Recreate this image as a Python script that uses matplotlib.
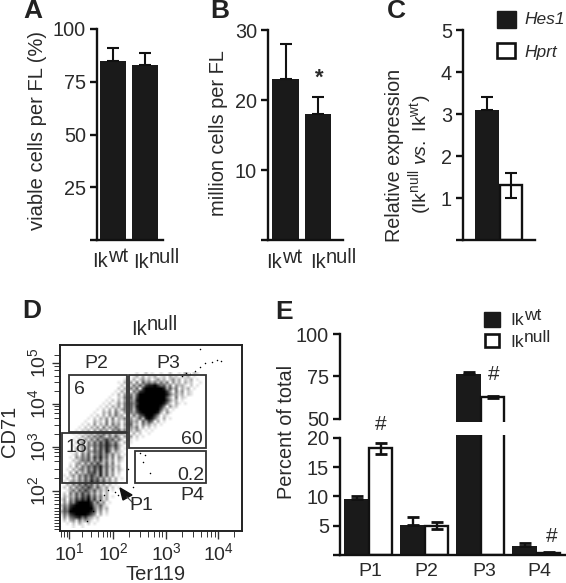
#!/usr/bin/env python3
# -*- coding: utf-8 -*-
import numpy as np
import matplotlib
matplotlib.use('Agg')
import matplotlib.pyplot as plt
from matplotlib.patches import Rectangle, Polygon

plt.rcParams['font.family'] = ['Liberation Sans', 'DejaVu Sans']
plt.rcParams['mathtext.fontset'] = 'custom'
plt.rcParams['mathtext.rm'] = 'Liberation Sans'
plt.rcParams['mathtext.it'] = 'Liberation Sans:italic'

W, H = 566, 583
DARK = '#1a1a1a'
TXT = '#2a2a2a'

# panel A
viable_vals = [85, 83]
viable_err = [6, 5.5]
viable_ticks = [0, 25, 50, 75, 100]
viable_ticklabels = ['', '25', '50', '75', '100']

# panel B
million_vals = [23, 18]
million_err = [5, 2.5]
million_ticks = [0, 10, 20, 30]
million_ticklabels = ['', '10', '20', '30']

# panel C
expr_genes = ['Hes1', 'Hprt']
expr_vals = [3.1, 1.3]
expr_err_low = [0, 0.3]
expr_err_high = [0.3, 0.3]
expr_ticks = [0, 1, 2, 3, 4, 5]
expr_ticklabels = ['', '1', '2', '3', '4', '5']

# panel E
pop_names = ['P1', 'P2', 'P3', 'P4']
pct_wt = [9.5, 5.2, 76.5, 1.5]
pct_wt_err = [0.6, 1.3, 1.0, 0.5]
pct_null = [18.2, 5.0, 63.0, 0.4]
pct_null_err = [1.0, 0.6, 0.7, 0.1]

# panel D, cytometer channels (log-like display)
ter119_ticks = [9, 53, 106, 158]
cd71_ticks = [40, 84, 127, 168]
decade_labels_x = [r'$\mathregular{10^{1}}$', r'$\mathregular{10^{2}}$', r'$\mathregular{10^{3}}$', r'$\mathregular{10^{4}}$']
decade_labels_y = [r'$\mathregular{10^{2}}$', r'$\mathregular{10^{3}}$', r'$\mathregular{10^{4}}$', r'$\mathregular{10^{5}}$']
ter119_minor = [1, 4, 7, 22, 31, 38, 43, 47, 50, 69, 80, 88, 94, 99, 102, 122, 133, 141, 147, 151, 155, 174]
cd71_minor = [2, 5, 8, 11, 14, 17, 20, 23, 27, 31, 34, 37, 53, 62, 70, 75, 79, 82, 97, 106, 113, 118, 122, 125, 140, 149, 155, 161, 165, 176]

# how dark the dot cloud looks, read by eye, 0 empty to 9 solid
cloud_density = [
    "0000000000 0000000000 0000010020 1001002001 03102100",
    "0000000000 0000000000 0020130302 1301203120 21301000",
    "0000000000 0000000000 0130302413 0241302413 02130100",
    "0000000000 0000000001 0314050635 3525250413 03120010",
    "0000000000 0000000000 2041526378 8975625042 31020100",
    "0000000000 0000000002 0315260799 9999836250 31301000",
    "0000000000 0000000010 3140537899 9999974051 40210000",
    "0000000000 0000000103 0415269999 9999985241 30210000",
    "0000000000 0000001002 1536279999 9999963050 21000000",
    "0000000000 0000010203 0425389999 9999974130 10000000",
    "0000000000 0000102014 1536479999 9999852031 01000000",
    "0000000000 0001020314 0526389999 9998504120 00000000",
    "0000000000 0010203041 3516279999 9996230100 00000000",
    "0000000000 0100314052 0425368999 9983041000 00000000",
    "0000000000 1020304152 3041526799 9740210000 00000000",
    "0000000001 0203140503 2504136289 8520301000 00000000",
    "0000000010 0312050413 0315240637 5030100000 00000000",
    "0000000102 0403150524 0426130524 1201000000 00000000",
    "0000001020 3140514253 0314250302 0100000000 00000000",
    "0000010213 0415240536 2503142010 1000000000 00000000",
    "0000102031 4052635142 4130302001 0000000000 00000000",
    "0000010314 2536415263 0414020100 0000000000 00000000",
    "0000103041 5263574625 2031010000 0000000000 00000000",
    "0000021405 2637485362 0301000000 0000000000 00000000",
    "0000102415 3647586473 1010000000 0000000000 00000000",
    "0000031425 0637485263 0100000000 0000000000 00000000",
    "0001020415 3647385142 1000000000 0000000000 00000000",
    "0000130526 1547362513 0100000000 0000000000 00000000",
    "0001042536 2748361504 2000000000 0000000000 00000000",
    "0000213546 2637251403 1000000000 0000000000 00000000",
    "0001034152 6374261502 0000000000 0000000000 00000000",
    "0002041536 4758362413 0000000000 0000000000 00000000",
    "0010314526 3748261503 1000000000 0000000000 00000000",
    "0003051426 5738261402 0000000000 0000000000 00000000",
    "0102415364 7538261401 0000000000 0000000000 00000000",
    "0020315263 7462514030 1000000000 0000000000 00000000",
    "0103425364 8573624130 0000000000 0000000000 00000000",
    "0031526374 6251403010 0000000000 0000000000 00000000",
    "0204153647 5263140201 0000000000 0000000000 00000000",
    "0013526475 3624130100 0000000000 0000000000 00000000",
    "0205263746 2514030000 0000000000 0000000000 00000000",
    "0314263758 3625130100 0000000000 0000000000 00000000",
    "1405375869 4725130000 0000000000 0000000000 00000000",
    "0416489999 7362401000 0000000000 0000000000 00000000",
    "2537899999 8436210000 0000000000 0000000000 00000000",
    "1648999999 9525130000 0000000000 0000000000 00000000",
    "3659999999 8614020000 0000000000 0000000000 00000000",
    "1537899998 6403010000 0000000000 0000000000 00000000",
    "0415678574 3120000000 0000000000 0000000000 00000000",
    "0203415243 1010000000 0000000000 0000000000 00000000",
    "0010203102 0100000000 0000000000 0000000000 00000000",
    "0000100100 0000000000 0000000000 0000000000 00000000",
]

# single events that stand out of the cloud
dots_x = [140, 145, 152, 157, 161, 140, 135, 130, 126, 122, 80, 85, 90, 83, 55, 58, 73, 40, 48, 33, 27, 44, 68]
dots_y = [164, 168, 169, 171, 170, 182, 160, 157, 158, 155, 78, 76, 58, 69, 39, 36, 44, 31, 41, 20, 10, 36, 62]

# gates in the reference pixel frame (left, top, right, bottom) are drawn on the overlay
gates = [(69, 375, 127, 432), (129, 375, 206, 448), (135, 451, 206, 483), (62, 433, 127, 483)]


def px_axes(left, top, right, bottom):
    return fig.add_axes([left / W, 1 - bottom / H, (right - left) / W, (bottom - top) / H])


def style_axis(ax, yticks, ylabels, size=14.3):
    for s in ('top', 'right'):
        ax.spines[s].set_visible(False)
    for s in ('left', 'bottom'):
        ax.spines[s].set_linewidth(1.7)
        ax.spines[s].set_color('#111111')
    ax.set_yticks(yticks)
    ax.set_yticklabels(ylabels, fontsize=size, color=TXT)
    ax.tick_params(axis='y', length=5, width=1.7, pad=3, color='#111111')
    ax.set_xticks([])
    ax.patch.set_alpha(0)


def ik(x, y, sup, size=14.5, dx=16, up=5):
    ov.text(x, y, 'Ik', fontsize=size, color=TXT, va='baseline', ha='left')
    ov.text(x + dx, y - up, sup, fontsize=size, color=TXT, va='baseline', ha='left')


fig = plt.figure(figsize=(W / 100, H / 100), dpi=100, facecolor='white')

# A
ax_a = px_axes(97, 29, 163, 240)
ax_a.bar([0, 1], viable_vals, width=0.81, color=DARK)
ax_a.errorbar([0, 1], viable_vals, yerr=[[0, 0], viable_err], fmt='none', ecolor='#111111',
              elinewidth=1.5, capsize=4.5, capthick=1.5)
ax_a.set_xlim(-0.5, 1.56)
ax_a.set_ylim(0, 100)
style_axis(ax_a, viable_ticks, viable_ticklabels)

# B
ax_b = px_axes(268, 30, 343, 240)
ax_b.bar([0, 1], million_vals, width=0.81, color=DARK)
ax_b.errorbar([0, 1], million_vals, yerr=[[0, 0], million_err], fmt='none', ecolor='#111111',
              elinewidth=1.5, capsize=4.5, capthick=1.5)
ax_b.set_xlim(-0.54, 1.77)
ax_b.set_ylim(0, 30)
style_axis(ax_b, million_ticks, million_ticklabels)

# C
ax_c = px_axes(463, 30, 535, 240)
ax_c.bar([0], expr_vals[0], width=1, color=DARK)
ax_c.bar([1], expr_vals[1], width=0.95, color='white', edgecolor='#111111', linewidth=1.7)
ax_c.errorbar([0, 1], expr_vals, yerr=[expr_err_low, expr_err_high], fmt='none', ecolor='#111111',
              elinewidth=1.5, capsize=4.5, capthick=1.5)
ax_c.set_xlim(-1.0, 2.0)
ax_c.set_ylim(0, 5)
style_axis(ax_c, expr_ticks, expr_ticklabels)

# D
ax_d = px_axes(60, 345, 242, 531)
density = np.array([[int(c) for c in row.replace(' ', '')] for row in cloud_density], dtype=float)
ax_d.imshow(density, cmap='gray_r', vmin=0, vmax=9, extent=(0, 144, 3, 159), origin='upper',
            interpolation='bilinear', aspect='auto')
ax_d.scatter(dots_x, dots_y, s=1.2, color='black', linewidths=0)
ax_d.set_xlim(0, 182)
ax_d.set_ylim(0, 186)
for s in ax_d.spines.values():
    s.set_linewidth(1.4)
    s.set_color('#222222')
ax_d.set_xticks(ter119_ticks)
ax_d.set_xticklabels(decade_labels_x, fontsize=14, color=TXT)
ax_d.set_xticks(ter119_minor, minor=True)
ax_d.set_yticks(cd71_ticks)
ax_d.set_yticklabels(decade_labels_y, fontsize=14, color=TXT, rotation=90, va='center')
ax_d.set_yticks(cd71_minor, minor=True)
ax_d.tick_params(axis='both', which='major', length=6, width=1.0, pad=2, color='#333333')
ax_d.tick_params(axis='both', which='minor', length=4, width=0.7, color='#333333')

# E, broken axis
group_pos = np.arange(4)
ax_e_top = px_axes(340, 334, 565, 422)
ax_e_bot = px_axes(340, 435, 565, 555)
for ax in (ax_e_top, ax_e_bot):
    ax.bar(group_pos - 0.22, pct_wt, width=0.44, color=DARK)
    ax.bar(group_pos + 0.21, pct_null, width=0.41, color='white', edgecolor='#111111', linewidth=1.7)
    ax.errorbar(group_pos - 0.22, pct_wt, yerr=[[0] * 4, pct_wt_err], fmt='none', ecolor='#111111',
                elinewidth=1.7, capsize=4.5, capthick=2)
    ax.errorbar(group_pos + 0.21, pct_null, yerr=pct_null_err, fmt='none', ecolor='#111111',
                elinewidth=1.7, capsize=4.5, capthick=2)
    ax.set_xlim(-0.518, 3.5)
ax_e_top.set_ylim(48.2, 100)
ax_e_bot.set_ylim(0, 20.5)
style_axis(ax_e_top, [50, 75, 100], ['50', '75', '100'])
style_axis(ax_e_bot, [0, 5, 10, 15, 20], ['', '5', '10', '15', '20'])
ax_e_top.spines['bottom'].set_visible(False)
ax_e_top.spines['left'].set_bounds(50, 100)
ax_e_bot.spines['left'].set_bounds(0, 20)

# overlay for labels, gates and legends, in reference pixels
ov = fig.add_axes([0, 0, 1, 1], zorder=10)
ov.set_xlim(0, W)
ov.set_ylim(H, 0)
ov.axis('off')

for letter, x, y in [('A', 33, 11), ('B', 220, 11), ('C', 396, 11), ('D', 32, 311), ('E', 284, 312)]:
    ov.text(x, y, letter, fontsize=19, fontweight='bold', color='#222222', ha='center', va='center')

ov.text(38, 131, 'viable cells per FL (%)', rotation=90, fontsize=14.5, color=TXT, ha='center', va='center')
ov.text(219, 133, 'million cells per FL', rotation=90, fontsize=14.4, color=TXT, ha='center', va='center')
ov.text(395, 155, 'Relative expression', rotation=90, fontsize=14.2, color=TXT, ha='center', va='center')
ov.text(420, 154, r'(Ik$^{\mathrm{null}}$ $\mathit{vs.}$ Ik$^{\mathrm{wt}}$)', rotation=90, fontsize=14, color=TXT,
        ha='center', va='center')
ov.text(287, 432, 'Percent of total', rotation=90, fontsize=14.3, color=TXT, ha='center', va='center')

ik(92, 267, 'wt')
ik(133, 268, 'null')
ik(266, 268, 'wt')
ik(310, 268, 'null')
ik(131, 335, 'null')

ov.text(319, 78, '*', fontsize=16, fontweight='bold', color=TXT, ha='center', va='center')
ov.text(381, 425, '#', fontsize=15, color=TXT, ha='center', va='center')
ov.text(494, 374, '#', fontsize=15, color=TXT, ha='center', va='center')
ov.text(552, 537, '#', fontsize=15, color=TXT, ha='center', va='center')

# C legend
ov.add_patch(Rectangle((497, 11), 19, 17, facecolor=DARK, edgecolor=DARK))
ov.add_patch(Rectangle((497, 43), 18, 15, facecolor='white', edgecolor='#111111', linewidth=1.9))
ov.text(524, 20, expr_genes[0], fontsize=12.5, style='italic', color=TXT, va='center')
ov.text(524, 52, expr_genes[1], fontsize=12.5, style='italic', color=TXT, va='center')

# E legend
ov.add_patch(Rectangle((484, 312), 16, 15, facecolor=DARK, edgecolor=DARK))
ov.add_patch(Rectangle((485, 334), 14, 13, facecolor='white', edgecolor='#111111', linewidth=1.9))
ik(510, 325, 'wt', size=12.5, dx=14)
ik(510, 347, 'null', size=12.5, dx=14)

for name, x, y in zip(pop_names, [370, 426, 484, 539], [571, 571, 572, 571]):
    ov.text(x, y, name, fontsize=14, color=TXT, ha='center', va='center')

# D gates and labels
for left, top, right, bottom in gates:
    ov.add_patch(Rectangle((left, top), right - left, bottom - top, fill=False, edgecolor='#333333', linewidth=1.3))
for txt, x, y in [('P2', 96, 364), ('P3', 168, 364), ('6', 79, 390), ('60', 192, 439), ('18', 76, 448),
                  ('0.2', 191, 475), ('P4', 192, 496), ('P1', 141, 506)]:
    ov.text(x, y, txt, fontsize=14, color=TXT, ha='center', va='center')
ov.add_patch(Polygon([(120, 488), (132, 495), (123, 500)], closed=True, facecolor='#111111', edgecolor='#111111'))
ov.plot([127, 133], [497, 503], color='#444444', lw=0.8)
ov.text(10, 431, 'CD71', rotation=90, fontsize=14.5, color=TXT, ha='center', va='center')
ov.text(156, 574, 'Ter119', fontsize=14.5, color=TXT, ha='center', va='center')

plt.savefig('out.png', dpi=100)
